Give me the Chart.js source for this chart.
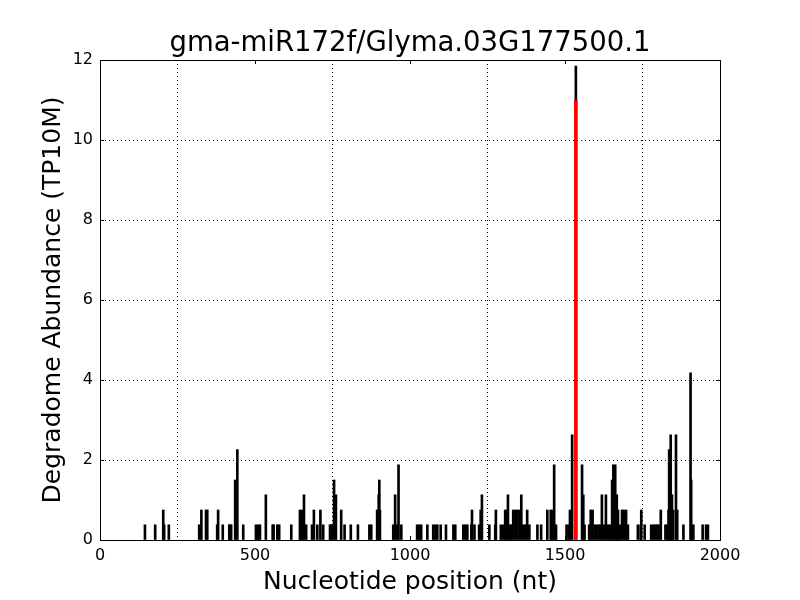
<!DOCTYPE html>
<html>
<head>
<meta charset="utf-8">
<script src="https://cdn.jsdelivr.net/npm/chart.js@4/dist/chart.umd.min.js"></script>
<style>
  html, body { margin: 0; padding: 0; background: #ffffff; }
  canvas { display: block; }
</style>
</head>
<body>
<canvas id="c" width="800" height="600"></canvas>
<script>
// ---- data ----
const chartTitle = "gma-miR172f/Glyma.03G177500.1";
const xAxisLabel = "Nucleotide position (nt)";
const yAxisLabel = "Degradome Abundance (TP10M)";

const xTicks = [0, 500, 1000, 1500, 2000];
const yTicks = [0, 2, 4, 6, 8, 10, 12];

// degradome read positions (nt) and abundance (TP10M)
const readPositions = [
  145, 178, 204, 207, 222, 320, 327, 342, 346, 378, 381, 396, 417, 420, 423, 436, 443,
  462, 503, 510, 516, 535, 557, 560, 572, 578, 617, 645, 648, 652, 658, 665, 684, 690,
  701, 711, 720, 742, 745, 748, 755, 761, 778, 789, 809, 832, 869, 875, 894, 899, 901,
  903, 946, 952, 959, 963, 972, 1023, 1030, 1036, 1056, 1075, 1082, 1088, 1099, 1116,
  1140, 1146, 1172, 1178, 1185, 1198, 1200, 1208, 1223, 1228, 1232, 1256, 1275, 1277,
  1293, 1301, 1307, 1312, 1316, 1323, 1327, 1333, 1340, 1346, 1353, 1359, 1365, 1372,
  1378, 1385, 1411, 1423, 1443, 1454, 1458, 1465, 1471, 1505, 1512, 1516, 1523, 1535,
  1555, 1559, 1563, 1578, 1583, 1589, 1596, 1602, 1609, 1615, 1619, 1626, 1632, 1639,
  1645, 1652, 1656, 1662, 1667, 1671, 1677, 1684, 1690, 1697, 1703, 1735, 1744, 1746,
  1757, 1778, 1785, 1791, 1797, 1802, 1809, 1824, 1830, 1834, 1836, 1839, 1841, 1845,
  1849, 1858, 1862, 1882, 1905, 1907, 1914, 1944, 1955, 1961
];
const readAbundance = [
  0.38, 0.38, 0.75, 0.38, 0.38, 0.38, 0.75, 0.75, 0.75, 0.38, 0.75, 0.38, 0.38, 0.38, 0.38, 1.5, 2.26,
  0.38, 0.38, 0.38, 0.38, 1.13, 0.38, 0.38, 0.38, 0.38, 0.38, 0.75, 0.38, 0.75, 1.13, 0.38, 0.38, 0.75,
  0.38, 0.75, 0.38, 0.38, 0.38, 0.38, 1.5, 1.13, 0.75, 0.38, 0.38, 0.38, 0.38, 0.38, 0.75, 1.13, 1.5,
  0.75, 0.38, 1.13, 0.38, 1.88, 0.38, 0.38, 0.38, 0.38, 0.38, 0.38, 0.38, 0.38, 0.38, 0.38,
  0.38, 0.38, 0.38, 0.38, 0.38, 0.38, 0.75, 0.38, 0.38, 0.75, 1.13, 0.38, 0.38, 0.75,
  0.38, 0.38, 0.75, 0.75, 1.13, 0.38, 0.38, 0.75, 0.75, 0.75, 0.75, 1.13, 0.38, 0.38,
  0.75, 0.38, 0.38, 0.38, 0.75, 0.75, 0.75, 1.88, 0.38, 0.38, 0.38, 0.75, 2.63, 11.85,
  1.88, 1.13, 0.38, 0.38, 0.75, 0.75, 0.38, 0.38, 0.38, 0.38, 1.13, 0.38, 1.13, 0.38,
  0.38, 1.5, 1.88, 1.88, 1.13, 0.75, 0.38, 0.75, 0.75, 0.75, 0.38, 0.38, 0.38, 0.75,
  0.38, 0.38, 0.38, 0.38, 0.38, 0.38, 0.75, 0.38, 0.38, 0.75, 2.26, 0.75, 2.63, 1.13,
  0.75, 2.63, 0.75, 0.38, 4.18, 1.5, 0.38, 0.38, 0.38, 0.38
];

// predicted miRNA cleavage site
const sitePositions = [1535];
const siteAbundance = [11.0];

// ---- chart ----
const FONT = "'DejaVu Sans', 'Liberation Sans', sans-serif";

const framePlugin = {
  id: 'frame',
  afterDraw(chart) {
    const {ctx, chartArea: a, scales} = chart;
    ctx.save();
    ctx.strokeStyle = '#000';
    ctx.lineWidth = 1;
    ctx.setLineDash([]);
    const L = 4;
    ctx.beginPath();
    xTicks.forEach(v => {
      const px = Math.round(scales.x.getPixelForValue(v)) + 0.5;
      ctx.moveTo(px, a.bottom); ctx.lineTo(px, a.bottom - L);
      ctx.moveTo(px, a.top); ctx.lineTo(px, a.top + L);
    });
    yTicks.forEach(v => {
      const py = Math.round(scales.y.getPixelForValue(v)) + 0.5;
      ctx.moveTo(a.left, py); ctx.lineTo(a.left + L, py);
      ctx.moveTo(a.right, py); ctx.lineTo(a.right - L, py);
    });
    ctx.stroke();
    ctx.strokeRect(Math.round(a.left) + 0.5, Math.round(a.top) + 0.5,
                   Math.round(a.right - a.left), Math.round(a.bottom - a.top));
    ctx.restore();
  }
};

new Chart(document.getElementById('c'), {
  type: 'bar',
  data: {
    datasets: [
      {
        label: 'cleavage site',
        data: sitePositions.map((x, i) => ({x: x, y: siteAbundance[i]})),
        backgroundColor: '#ff0000',
        barThickness: 3,
        order: 0
      },
      {
        label: 'reads',
        data: readPositions.map((x, i) => ({x: x, y: readAbundance[i]})),
        backgroundColor: '#000000',
        barThickness: 2,
        order: 1
      }
    ]
  },
  options: {
    responsive: false,
    animation: false,
    devicePixelRatio: 1,
    layout: { padding: { left: 20, right: 0, top: 0, bottom: 0 } },
    datasets: { bar: { grouped: false } },
    plugins: {
      legend: { display: false },
      tooltip: { enabled: false },
      title: {
        display: true,
        text: chartTitle,
        color: '#000',
        font: { family: FONT, size: 27.5, weight: 'normal' },
        padding: { top: 27, bottom: 0 }
      }
    },
    scales: {
      x: {
        type: 'linear',
        min: 0, max: 2000,
        offset: false,
        afterBuildTicks: s => { s.ticks = xTicks.map(v => ({value: v})); },
        afterFit: s => { s.height = 60; },
        ticks: { color: '#000', font: { family: FONT, size: 16 }, padding: 6, maxRotation: 0,
                 callback: v => String(v) },
        grid: { color: '#000', lineWidth: 1, drawTicks: false },
        border: { display: true, color: '#000', width: 1, dash: [1, 3] },
        title: {
          display: true, text: xAxisLabel, color: '#000',
          font: { family: FONT, size: 25 }, padding: { top: 0, bottom: 3 }
        }
      },
      y: {
        min: 0, max: 12,
        afterBuildTicks: s => { s.ticks = yTicks.map(v => ({value: v})); },
        afterFit: s => { s.width = 80; },
        ticks: { color: '#000', font: { family: FONT, size: 16 }, padding: 7,
                 callback: v => String(v) },
        grid: { color: '#000', lineWidth: 1, drawTicks: false },
        border: { display: true, color: '#000', width: 1, dash: [1, 3] },
        title: {
          display: true, text: yAxisLabel, color: '#000',
          font: { family: FONT, size: 25 }, padding: { top: 18, bottom: 0 }
        }
      },
      yRight: {
        position: 'right',
        display: true,
        min: 0, max: 12,
        afterFit: s => { s.width = 80; },
        ticks: { display: false },
        grid: { display: false, drawOnChartArea: false, drawTicks: false },
        border: { display: false }
      }
    }
  },
  plugins: [framePlugin]
});
</script>
</body>
</html>
